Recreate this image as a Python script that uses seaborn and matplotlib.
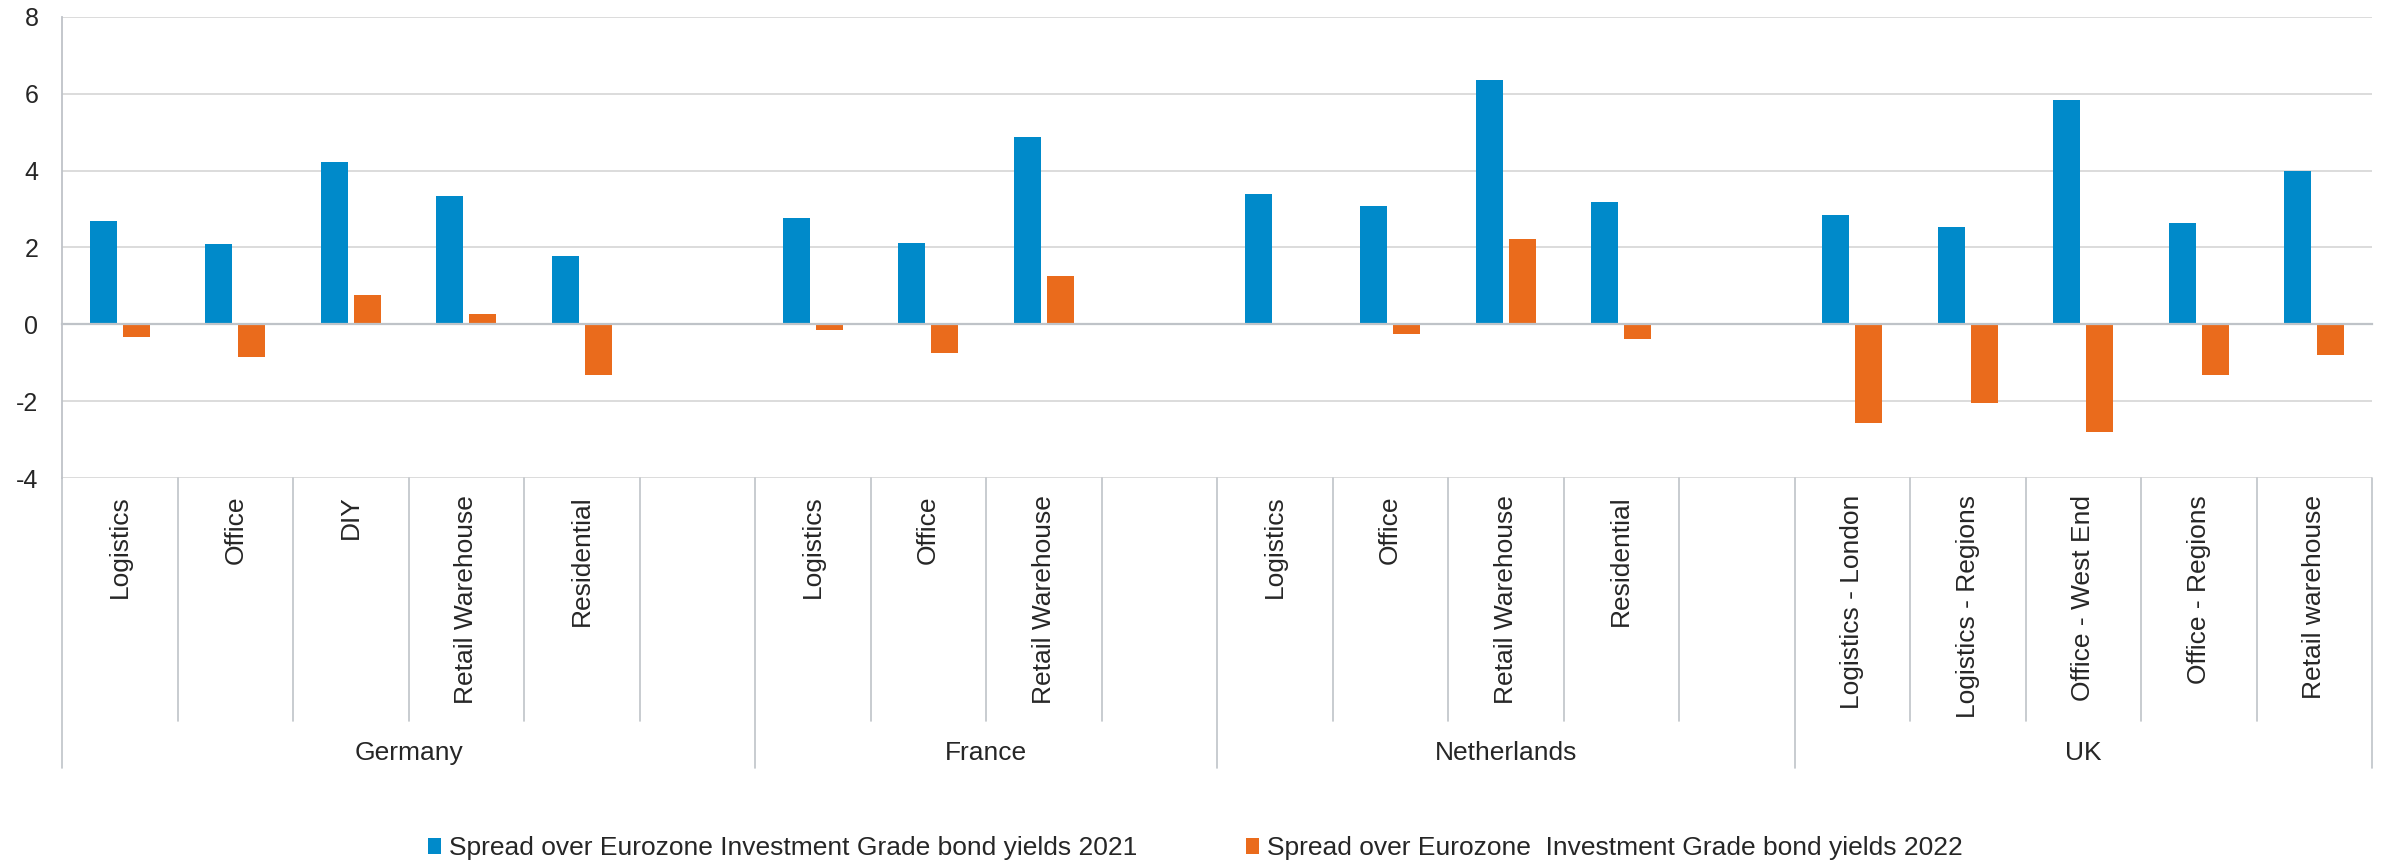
import numpy as np
import pandas as pd
import matplotlib
matplotlib.use("Agg")
import matplotlib.pyplot as plt
import seaborn as sns
from matplotlib.patches import Patch

# ---------------- data ----------------
countries = (["Germany"] * 6 + ["France"] * 4 + ["Netherlands"] * 5 + ["UK"] * 5)
sectors = ["Logistics", "Office", "DIY", "Retail Warehouse", "Residential", "",
           "Logistics", "Office", "Retail Warehouse", "",
           "Logistics", "Office", "Retail Warehouse", "Residential", "",
           "Logistics - London", "Logistics - Regions", "Office - West End",
           "Office - Regions", "Retail warehouse"]
spread_2021 = [2.68, 2.08, 4.23, 3.33, 1.77, np.nan,
               2.78, 2.13, 4.88, np.nan,
               3.39, 3.08, 6.37, 3.19, np.nan,
               2.84, 2.53, 5.83, 2.65, 3.98]
spread_2022 = [-0.34, -0.84, 0.76, 0.26, -1.33, np.nan,
               -0.15, -0.74, 1.27, np.nan,
               -0.03, -0.24, 2.21, -0.38, np.nan,
               -2.56, -2.06, -2.80, -1.31, -0.80]
series_names = ["Spread over Eurozone Investment Grade bond yields 2021",
                "Spread over Eurozone  Investment Grade bond yields 2022"]
y_ticks = [-4, -2, 0, 2, 4, 6, 8]

BLUE = "#008ACA"
ORANGE = "#EA6B1C"
GRID = "#d9d9d9"
AXIS = "#bfc3c8"
TEXT = "#262626"

# ---------------- long-form table ----------------
keys = [f"{c}|{s}|{i}" for i, (c, s) in enumerate(zip(countries, sectors))]
rows = []
for k, v1, v2 in zip(keys, spread_2021, spread_2022):
    if not np.isnan(v1):
        rows.append((k, series_names[0], v1))
    if not np.isnan(v2):
        rows.append((k, series_names[1], v2))
df = pd.DataFrame(rows, columns=["key", "series", "value"])

# ---------------- style ----------------
sns.set_style("white")
plt.rcParams["font.family"] = ["Liberation Sans", "DejaVu Sans"]

W, H, DPI = 2381, 863, 100
fig = plt.figure(figsize=(W / DPI, H / DPI), dpi=DPI)
left_px, right_px, top_px, bot_px = 62, 2372, 17, 478
ax = fig.add_axes([left_px / W, 1 - bot_px / H,
                   (right_px - left_px) / W, (bot_px - top_px) / H])

sns.barplot(data=df, x="key", y="value", hue="series", order=keys,
            hue_order=series_names, palette=[BLUE, ORANGE],
            width=0.57, gap=0.18, linewidth=0, saturation=1,
            legend=False, ax=ax, zorder=3)

n = len(keys)
ax.set_xlim(-0.5, n - 0.5)
ax.set_ylim(y_ticks[0], y_ticks[-1])
ax.set_yticks(y_ticks)
ax.set_yticklabels([str(t) for t in y_ticks], fontsize=18, color=TEXT)
ax.set_xlabel("")
ax.set_ylabel("")

# grid
ax.yaxis.grid(True, color=GRID, linewidth=1.3, zorder=0)
ax.xaxis.grid(False)
ax.set_axisbelow(True)

# spines
for s in ["top", "right"]:
    ax.spines[s].set_visible(False)
ax.spines["left"].set_color(AXIS)
ax.spines["left"].set_linewidth(1.3)
ax.spines["bottom"].set_position(("data", 0))
ax.spines["bottom"].set_color(AXIS)
ax.spines["bottom"].set_linewidth(1.6)
ax.spines["bottom"].set_zorder(4)

# ticks: category boundaries on the zero axis
bounds = np.arange(-0.5, n, 1.0)
ax.set_xticks(bounds)
ax.set_xticklabels([""] * len(bounds))
ax.tick_params(axis="x", direction="out", length=5, width=1.3, color=AXIS)
ax.tick_params(axis="y", direction="out", length=5, width=1.3, color=AXIS, pad=12)

# ---------------- multi-level category table ----------------
axh = bot_px - top_px
trans = ax.get_xaxis_transform()
sub_bottom = -(721 - bot_px) / axh
grp_bottom = -(768 - bot_px) / axh
label_top = -(495 - bot_px) / axh
grp_label_y = -(753 - bot_px) / axh

group_edges = [0]
for i in range(1, n):
    if countries[i] != countries[i - 1]:
        group_edges.append(i)
group_edges.append(n)

for i in range(n + 1):
    yb = grp_bottom if i in group_edges else sub_bottom
    ax.plot([i - 0.5, i - 0.5], [0, yb], transform=trans, color=AXIS,
            linewidth=1.2, clip_on=False, zorder=5)

for i, s in enumerate(sectors):
    if s:
        ax.text(i, label_top, s, transform=trans, rotation=90, ha="center",
                va="top", fontsize=19, color=TEXT, clip_on=False)

for a, b in zip(group_edges[:-1], group_edges[1:]):
    ax.text((a + b - 1) / 2, grp_label_y, countries[a], transform=trans,
            ha="center", va="center", fontsize=19, color=TEXT, clip_on=False)

# ---------------- legend ----------------
handles = [Patch(facecolor=BLUE, edgecolor="none"),
           Patch(facecolor=ORANGE, edgecolor="none")]
fig.legend(handles, series_names, loc="center", bbox_to_anchor=(0.502, 1 - 848 / H),
           ncol=2, frameon=False, fontsize=19, handlelength=0.5, handleheight=0.55,
           handletextpad=0.3, columnspacing=4.1, labelcolor=TEXT)

fig.savefig("out.png", dpi=DPI, facecolor="white")
